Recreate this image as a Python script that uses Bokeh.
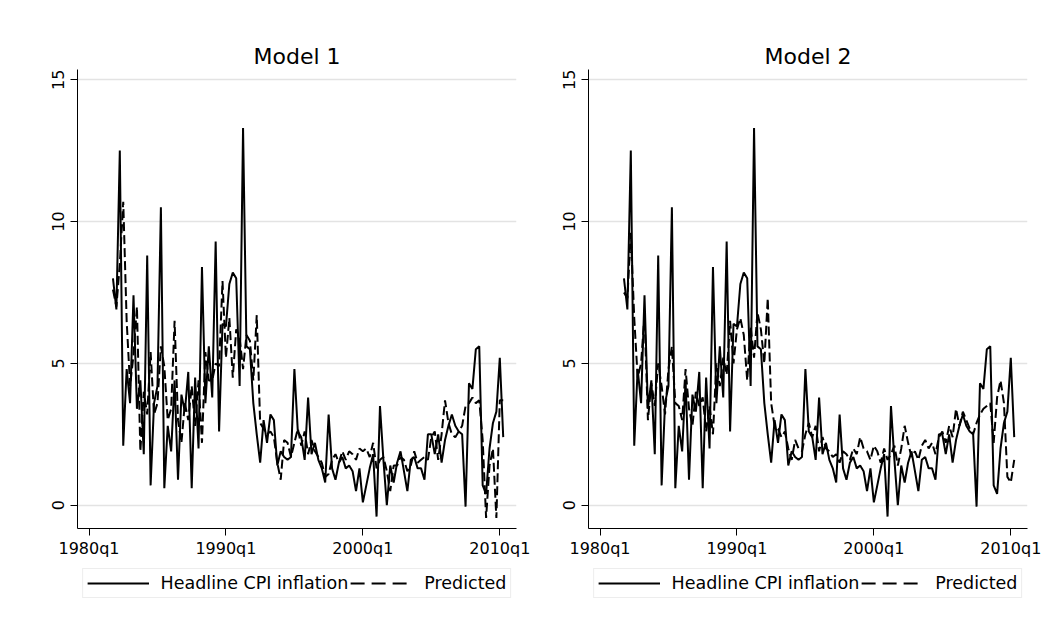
from bokeh.plotting import figure
from bokeh.models import FixedTicker, Legend, LegendItem, ColumnDataSource, Range1d
from bokeh.layouts import row, column
from bokeh.embed import file_html
from bokeh.resources import INLINE

# quarterly sample 1981q4 .. 2010q2
quarters = ["1981q4"] + [f"{y}q{q}" for y in range(1982, 2010) for q in (1, 2, 3, 4)] + ["2010q1", "2010q2"]

headline_cpi = [
    8.0,
    6.9, 12.5, 2.1, 4.8,
    3.6, 7.4, 3.4, 4.4,
    1.8, 8.8, 0.7, 3.6,
    4.2, 10.5, 0.6, 2.8,
    1.9, 4.4, 0.9, 3.9,
    3.3, 4.7, 0.6, 4.5,
    2.0, 8.4, 3.6, 5.6,
    3.8, 9.3, 2.6, 6.4,
    6.3, 7.8, 8.2, 8.0,
    4.2, 13.3, 5.6, 5.5,
    3.6, 2.5, 1.5, 3.0,
    2.2, 3.2, 3.0, 1.4,
    1.9, 1.7, 1.6, 1.7,
    4.8, 2.6, 2.4, 1.6,
    3.8, 1.8, 2.2, 1.6,
    1.3, 0.8, 3.2, 1.3,
    0.9, 1.5, 1.7, 1.3,
    1.4, 1.2, 0.5, 1.3,
    0.1, 0.7, 1.3, 1.8,
    -0.4, 3.5, 1.6, 0.0,
    1.4, 0.8, 1.5, 1.9,
    1.2, 0.5, 1.6, 1.7,
    1.3, 1.3, 0.9, 2.5,
    2.5, 1.8, 2.5, 1.5,
    2.3, 2.8, 3.2, 2.8,
    2.6, 2.5, -0.05, 4.3,
    4.1, 5.5, 5.6, 0.7,
    0.4, 2.0, 2.9, 3.3,
    5.2, 2.4,
]

predicted_model1 = [
    7.6,
    7.0, 8.5, 10.7, 6.5,
    4.2, 5.3, 7.0, 1.9,
    4.0, 3.2, 5.4, 3.2,
    3.6, 5.6, 4.9, 3.0,
    3.4, 6.5, 3.0, 2.2,
    3.6, 3.0, 4.2, 2.8,
    4.4, 2.2, 5.4, 4.4,
    4.4, 5.0, 4.9, 7.9,
    5.2, 6.6, 4.5, 6.2,
    5.9, 4.8, 6.0, 5.8,
    4.4, 6.7, 2.9, 2.7,
    2.5, 2.6, 2.4, 1.5,
    0.9, 2.3, 2.2, 1.7,
    2.2, 2.7, 2.1, 2.6,
    1.8, 2.3, 1.9, 1.7,
    1.5, 1.0, 1.1, 1.6,
    1.8, 1.5, 1.9, 1.6,
    1.9, 1.8, 1.6, 2.0,
    1.9, 2.0, 1.7, 2.2,
    1.3, 1.6, 1.7, 1.2,
    0.5, 1.4, 1.4, 1.7,
    1.6, 1.2, 1.4, 1.9,
    1.5, 1.6, 1.7, 1.6,
    2.4, 2.6, 1.6, 2.5,
    3.7, 2.9, 2.5, 2.4,
    2.6, 2.8, 3.5, 3.6,
    3.8, 3.6, 3.7, 2.3,
    -0.45, 1.4, 2.0, -0.45,
    3.7, 3.7,
]

predicted_model2 = [
    7.5,
    7.3, 9.6, 6.6, 4.5,
    5.0, 6.7, 3.0, 4.3,
    3.5, 5.0, 4.2, 3.2,
    4.8, 5.6, 3.6, 3.5,
    3.0, 4.8, 3.4, 2.8,
    4.0, 3.5, 3.8, 2.6,
    3.5, 2.5, 5.0, 4.2,
    5.2, 4.6, 6.5, 5.0,
    6.2, 6.6, 6.0, 4.4,
    6.3, 5.2, 6.8, 6.2,
    5.0, 7.3, 3.6, 2.8,
    2.7, 2.4, 2.6, 2.0,
    1.6, 2.3, 2.0, 1.9,
    2.5, 2.9, 2.4, 2.8,
    1.9, 2.4, 2.0, 1.9,
    1.7, 1.8, 1.5, 1.9,
    1.8, 1.6, 2.0, 1.8,
    2.4, 2.0, 1.9, 1.6,
    2.1, 1.9, 1.5, 2.0,
    1.6, 1.8, 2.1, 1.4,
    2.0, 2.8, 2.2, 1.7,
    1.9, 1.6, 2.1, 2.3,
    2.0, 2.2, 1.8, 2.4,
    2.6, 2.2, 2.8, 2.4,
    3.4, 2.8, 3.3, 3.0,
    2.7, 2.5, 2.9, 3.2,
    3.4, 3.5, 3.6, 2.2,
    3.8, 4.4, 3.6, 1.0,
    0.8, 1.6,
]

x_tick_values = [1980, 1990, 2000, 2010]
x_tick_labels = ["1980q1", "1990q1", "2000q1", "2010q1"]
y_tick_values = [0, 5, 10, 15]

titles = ["Model 1", "Model 2"]
legend_labels = ["Headline CPI inflation", "Predicted"]

time = [int(s[:4]) + (int(s[5]) - 1) / 4 for s in quarters]

FONT = "DejaVu Sans"
SOLID = dict(line_color="black", line_width=2)
DASHED = dict(line_color="black", line_width=2, line_dash="9 4")
DASHED_KEY = dict(line_color="black", line_width=2, line_dash="14 7")


def make_panel(title, pred, width, left):
    src = ColumnDataSource(dict(t=time, a=headline_cpi, p=pred))
    p = figure(width=width, height=560, output_backend="svg", toolbar_location=None,
               x_range=Range1d(1979.16, 2011.22), y_range=Range1d(-0.82, 15.36),
               min_border_left=left, min_border_right=15, min_border_top=69,
               min_border_bottom=30)
    p.outline_line_color = None
    p.background_fill_color = "white"
    p.border_fill_color = "white"

    p.title.text = title
    p.title.align = "center"
    p.title.text_font = FONT
    p.title.text_font_size = "22px"
    p.title.text_font_style = "normal"
    p.title.text_color = "black"
    p.title.standoff = 2

    p.line("t", "a", source=src, **SOLID)
    p.line("t", "p", source=src, **DASHED)

    p.xaxis.ticker = FixedTicker(ticks=x_tick_values)
    p.xaxis.major_label_overrides = {v: l for v, l in zip(x_tick_values, x_tick_labels)}
    p.yaxis.ticker = FixedTicker(ticks=y_tick_values)
    p.yaxis.major_label_orientation = "vertical"
    for ax in (p.xaxis[0], p.yaxis[0]):
        ax.axis_line_color = "black"
        ax.axis_line_width = 1
        ax.major_tick_line_color = "black"
        ax.major_tick_out = 7
        ax.major_tick_in = 0
        ax.minor_tick_out = 0
        ax.minor_tick_in = 0
        ax.major_label_text_font = FONT
        ax.major_label_text_font_size = "16px"
        ax.major_label_text_color = "black"
    p.xaxis.major_label_standoff = 3
    p.yaxis.major_label_standoff = 6

    p.xgrid.grid_line_color = None
    p.ygrid.grid_line_color = "#e3e3e3"
    p.ygrid.grid_line_width = 1.5
    p.ygrid.ticker = FixedTicker(ticks=y_tick_values)

    # legend strip below the panel (series drawn off-view, only their keys show)
    lg = figure(width=width, height=48, output_backend="svg", toolbar_location=None,
                x_range=Range1d(0, 1), y_range=Range1d(0, 1),
                x_axis_location=None, y_axis_location=None,
                min_border_left=left, min_border_right=15, min_border_top=0,
                min_border_bottom=0)
    lg.outline_line_color = None
    lg.xgrid.grid_line_color = None
    lg.ygrid.grid_line_color = None
    lg.border_fill_color = "white"
    k1 = lg.line("t", "a", source=src, **SOLID)
    k2 = lg.line("t", "p", source=src, **DASHED_KEY)
    legend = Legend(items=[LegendItem(label=legend_labels[0], renderers=[k1]),
                           LegendItem(label=legend_labels[1], renderers=[k2])],
                    orientation="horizontal", location="top_center",
                    label_text_font=FONT, label_text_font_size="17.5px",
                    label_text_color="black",
                    glyph_width=62, glyph_height=20, label_standoff=12, spacing=2,
                    padding=4, margin=8, border_line_color="#dcdcdc",
                    border_line_width=1, background_fill_color="white",
                    background_fill_alpha=1)
    lg.add_layout(legend)
    return column(p, lg, spacing=0)


c1 = make_panel(titles[0], predicted_model1, 531, 77)
c2 = make_panel(titles[1], predicted_model2, 511, 57)
layout = row(c1, c2, spacing=0)

open("out.html", "w").write(file_html(layout, INLINE))
